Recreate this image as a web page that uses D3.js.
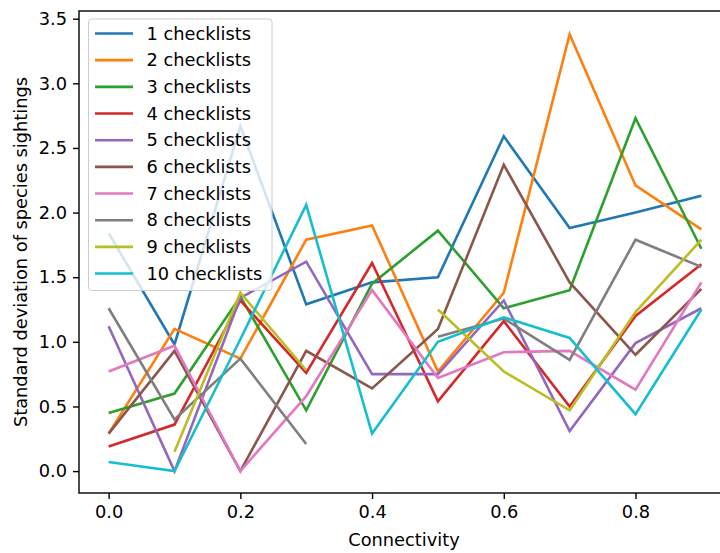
<!DOCTYPE html>
<html>
<head>
<meta charset="utf-8">
<script src="https://cdn.jsdelivr.net/npm/d3@7"></script>
<style>
  body { margin: 0; background: #fff; }
  svg { display: block; font-family: "DejaVu Sans", sans-serif; }
</style>
</head>
<body>
<div id="chart"></div>
<script>
// connectivity values along x
const connectivity = [0.0, 0.1, 0.2, 0.3, 0.4, 0.5, 0.6, 0.7, 0.8, 0.9]
const seriesNames = ['1 checklists','2 checklists','3 checklists','4 checklists','5 checklists',
                     '6 checklists','7 checklists','8 checklists','9 checklists','10 checklists']
// std dev of species sightings, one list per series (null = gap)
const s1  = [1.84, 0.98, 2.67, 1.29, 1.46, 1.50, 2.59, 1.88, 2.00, 2.13]
const s2  = [0.29, 1.10, 0.87, 1.79, 1.90, 0.77, 1.38, 3.38, 2.21, 1.87]
const s3  = [0.45, 0.60, 1.35, 0.47, 1.45, 1.86, 1.26, 1.40, 2.73, 1.72]
const s4  = [0.19, 0.36, 1.32, 0.76, 1.61, 0.54, 1.16, 0.50, 1.20, 1.60]
const s5  = [1.12, 0.00, 1.34, 1.62, 0.75, 0.75, 1.32, 0.31, 0.99, 1.26]
const s6  = [0.29, 0.93, 0.00, 0.93, 0.64, 1.10, 2.37, 1.46, 0.90, 1.41]
const s7  = [0.77, 0.97, 0.00, 0.58, 1.40, 0.72, 0.92, 0.93, 0.63, 1.46]
const s8  = [1.26, 0.40, 0.87, 0.21, null, 1.04, 1.18, 0.86, 1.79, 1.58]
const s9  = [null, 0.15, 1.38, 0.78, null, 1.25, 0.77, 0.47, 1.23, 1.79]
const s10 = [0.07, 0.00, 1.02, 2.06, 0.29, 1.00, 1.19, 1.03, 0.44, 1.25]
const allSeries = [s1, s2, s3, s4, s5, s6, s7, s8, s9, s10]
const yTicks = [0, 0.5, 1, 1.5, 2, 2.5, 3, 3.5]
const xTicks = [0, 0.2, 0.4, 0.6, 0.8]

const colors = ['#1f77b4','#ff7f0e','#2ca02c','#d62728','#9467bd','#8c564b','#e377c2','#7f7f7f','#bcbd22','#17becf']

let W = 720, H = 553
let fs = 17.8
let plot = {left: 79, top: 11, right: 731, bottom: 493}

let svg = d3.select('#chart').append('svg')
            .attr('width', W)
            .attr('height', H)

let xScale = d3.scaleLinear()
               .domain([-0.045, 0.945])
               .range([plot.left, plot.right])
let yScale = d3.scaleLinear()
               .domain([-0.1695, 3.5595])
               .range([plot.bottom, plot.top])

// lines
let line = d3.line()
             .defined(d => d[1] !== null)
             .x(d => xScale(d[0]))
             .y(d => yScale(d[1]))

let lines = svg.append('g')
allSeries.forEach((s, i) => {
  lines.append('path')
       .datum(connectivity.map((c, j) => [c, s[j]]))
       .attr('fill', 'none')
       .attr('stroke', colors[i])
       .attr('stroke-width', 2.6)
       .attr('stroke-linejoin', 'miter')
       .attr('stroke-linecap', 'butt')
       .attr('d', line)
})

// axes
let xAxis = d3.axisBottom(xScale)
              .tickValues(xTicks)
              .tickFormat(d3.format('.1f'))
              .tickSize(6)
              .tickPadding(6)
let yAxis = d3.axisLeft(yScale)
              .tickValues(yTicks)
              .tickFormat(d3.format('.1f'))
              .tickSize(6)
              .tickPadding(6)

let xg = svg.append('g')
            .attr('transform', 'translate(0,' + plot.bottom + ')')
            .call(xAxis)
let yg = svg.append('g')
            .attr('transform', 'translate(' + plot.left + ',0)')
            .call(yAxis)

;[xg, yg].forEach(g => {
  g.select('.domain').remove()
  g.selectAll('line').attr('stroke', '#000').attr('stroke-width', 1.4)
  g.selectAll('text').attr('fill', '#000').attr('font-size', fs + 'px')
       .attr('font-family', '"DejaVu Sans", sans-serif')
})

// frame
svg.append('rect')
   .attr('x', plot.left)
   .attr('y', plot.top)
   .attr('width', plot.right - plot.left)
   .attr('height', plot.bottom - plot.top)
   .attr('fill', 'none')
   .attr('stroke', '#000')
   .attr('stroke-width', 1.4)

// axis labels
svg.append('text')
   .attr('x', 404)
   .attr('y', 546)
   .attr('text-anchor', 'middle')
   .attr('font-size', fs + 'px')
   .text('Connectivity')

svg.append('text')
   .attr('transform', 'translate(27,' + ((plot.top + plot.bottom) / 2) + ') rotate(-90)')
   .attr('text-anchor', 'middle')
   .attr('font-size', fs + 'px')
   .text('Standard deviation of species sightings')

// legend
let lg = svg.append('g').attr('transform', 'translate(88.5,19)')
lg.append('rect')
  .attr('width', 183.5)
  .attr('height', 271.5)
  .attr('rx', 3)
  .attr('fill', 'rgba(255,255,255,0.8)')
  .attr('stroke', '#cccccc')
  .attr('stroke-width', 1)

seriesNames.forEach((name, i) => {
  let y = 14.5 + i * 26.67
  lg.append('line')
    .attr('x1', 6.5).attr('x2', 44.5)
    .attr('y1', y).attr('y2', y)
    .attr('stroke', colors[i])
    .attr('stroke-width', 2.6)
  lg.append('text')
    .attr('x', 58)
    .attr('y', y)
    .attr('dy', '0.35em')
    .attr('font-size', fs + 'px')
    .text(name)
})
</script>
</body>
</html>
